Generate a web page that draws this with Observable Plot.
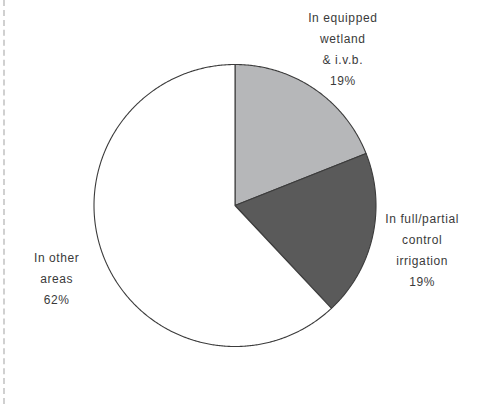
<!DOCTYPE html>
<html>
<head>
<meta charset="utf-8">
<script src="https://cdn.jsdelivr.net/npm/d3@7"></script>
<script src="https://cdn.jsdelivr.net/npm/@observablehq/plot@0.6"></script>
<style>
  html, body { margin: 0; padding: 0; background: #fff; }
  #wrap { position: relative; width: 494px; height: 404px; overflow: hidden; }
  #rule { position: absolute; left: 3px; top: 0; height: 404px; border-left: 2px dashed #d0d0d0; }
  svg text { letter-spacing: 0.6px; }
</style>
</head>
<body>
<div id="wrap"><div id="rule"></div></div>
<script>
const categories = ["In equipped wetland & i.v.b.", "In full/partial control irrigation", "In other areas"];
const labelLines = [["In equipped", "wetland", "& i.v.b."], ["In full/partial", "control", "irrigation"], ["In other", "areas"]];
const values = [19, 19, 62];

const arcs = d3.pie().sort(null).value(d => d)(values);
const toXY = (a, r) => [Math.sin(a) * r, Math.cos(a) * r];

const polys = [];
arcs.forEach((arc, i) => {
  polys.push({cat: categories[i], x: 0, y: 0});
  const n = Math.max(2, Math.ceil((arc.endAngle - arc.startAngle) / (Math.PI / 360)));
  for (let k = 0; k <= n; k++) {
    const a = arc.startAngle + (arc.endAngle - arc.startAngle) * k / n;
    const [x, y] = toXY(a, 1);
    polys.push({cat: categories[i], x, y});
  }
  polys.push({cat: categories[i], x: 0, y: 0});
});

const labels = arcs.map((arc, i) => {
  const mid = (arc.startAngle + arc.endAngle) / 2;
  const [x, y] = toXY(mid, 1.36);
  return {x, y, text: labelLines[i].join("\n") + "\n" + values[i] + "%"};
});

const chart = Plot.plot({
  width: 494,
  height: 404,
  margin: 0,
  x: {domain: [-1, 1], range: [93.5, 375.5], axis: null},
  y: {domain: [-1, 1], range: [346, 64], axis: null},
  color: {domain: categories, range: ["#b6b7b9", "#5a5a5a", "#ffffff"]},
  style: {fontFamily: "Liberation Sans, Arial, sans-serif", fontSize: "12px", color: "#3a3a3a", background: "#fff"},
  marks: [
    Plot.line(polys, {x: "x", y: "y", z: "cat", fill: "cat", stroke: "#3c3c3c", strokeWidth: 1.1, strokeLinejoin: "round"}),
    Plot.text(labels, {x: "x", y: "y", text: "text", lineHeight: 1.75, fill: "#3a3a3a", fontSize: 12})
  ]
});
document.getElementById("wrap").appendChild(chart);
</script>
</body>
</html>
